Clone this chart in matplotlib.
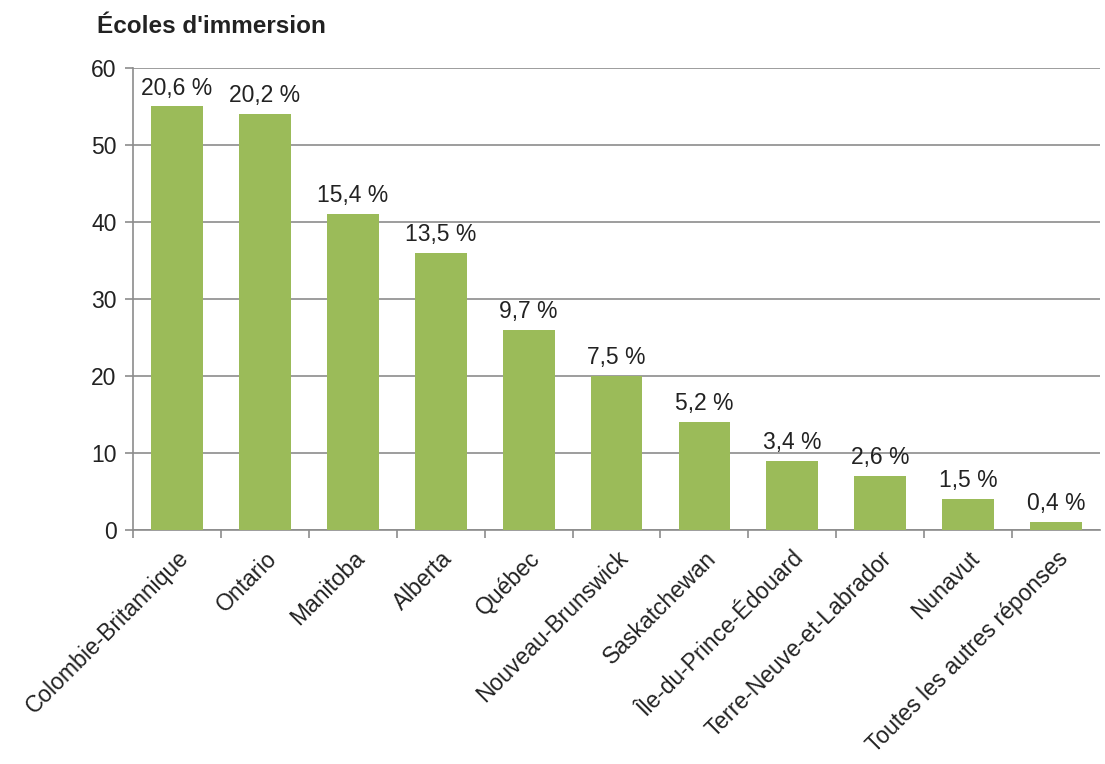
import matplotlib
matplotlib.use("Agg")
import matplotlib.pyplot as plt
import numpy as np

plt.rcParams["font.family"] = ["Liberation Sans", "DejaVu Sans"]

# Data
provinces = [
    "Colombie-Britannique", "Ontario", "Manitoba", "Alberta", "Québec",
    "Nouveau-Brunswick", "Saskatchewan", "Île-du-Prince-Édouard",
    "Terre-Neuve-et-Labrador", "Nunavut", "Toutes les autres réponses",
]
counts = [55, 54, 41, 36, 26, 20, 14, 9, 7, 4, 1]
shares = ["20,6 %", "20,2 %", "15,4 %", "13,5 %", "9,7 %", "7,5 %",
          "5,2 %", "3,4 %", "2,6 %", "1,5 %", "0,4 %"]

grid_color = "#8c8c8c"
text_color = "#222222"
fs = 16.5

fig = plt.figure(figsize=(11.05, 7.64), dpi=100)
ax = fig.add_axes([0.1204, 0.3063, 0.8751, 0.6047])

x = np.arange(len(provinces))
ax.bar(x, counts, width=0.59, color="#9bbb59", zorder=3)

for xi, v, s in zip(x, counts, shares):
    ax.annotate(s, (xi, v), xytext=(0, 5), textcoords="offset points",
                ha="center", va="bottom", fontsize=fs, color=text_color,
                zorder=4)

ax.set_xlim(-0.5, len(provinces) - 0.5)
ax.set_ylim(0, 60)
ax.set_yticks(range(0, 61, 10))
ax.yaxis.grid(True, color=grid_color, linewidth=1.2, zorder=0)
ax.set_axisbelow(True)

ax.set_xticks(x)
ax.set_xticklabels(provinces, rotation=45, ha="right", rotation_mode="anchor",
                   fontsize=fs, color=text_color)
ax.tick_params(axis="x", length=0, pad=12)
# category boundary ticks (none at the far right edge)
ax.set_xticks(np.arange(-0.5, len(provinces) - 1), minor=True)
ax.tick_params(axis="x", which="minor", length=6, color=grid_color, width=1.2)
ax.tick_params(axis="y", length=6, color=grid_color, width=1.2, labelsize=fs,
               labelcolor=text_color, pad=6)

for side in ["top", "right"]:
    ax.spines[side].set_visible(False)
for side in ["left", "bottom"]:
    ax.spines[side].set_color(grid_color)
    ax.spines[side].set_linewidth(1.2)

fig.text(0.088, 0.965, "Écoles d'immersion", fontsize=17.5, fontweight="bold",
         color=text_color, ha="left", va="center")

fig.savefig("out.png", dpi=100)
plt.close(fig)
